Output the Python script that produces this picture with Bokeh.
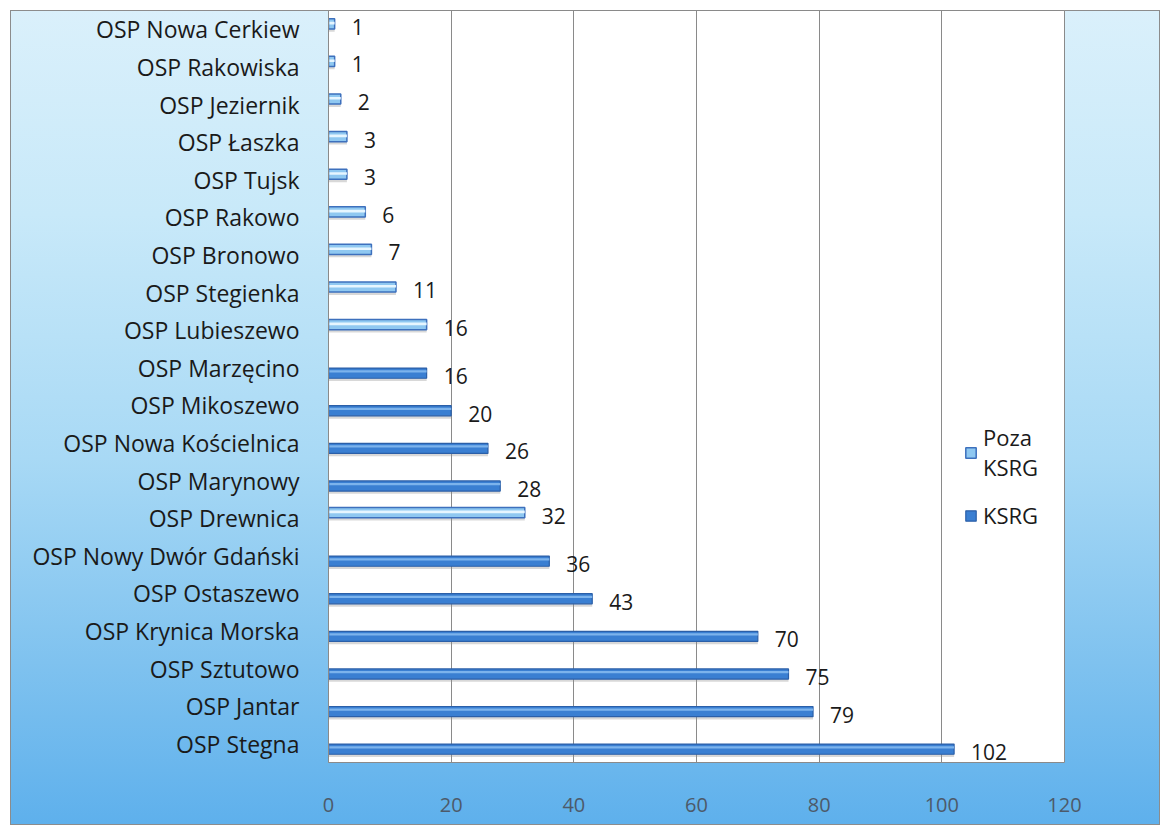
from bokeh.plotting import figure
from bokeh.models import ColumnDataSource, FactorRange, Range1d, Legend, LegendItem
from bokeh.transform import dodge
from bokeh.core.properties import value
from bokeh.embed import file_html
from bokeh.resources import INLINE

# ---- data (top to bottom as in the chart) ----
names = ["OSP Nowa Cerkiew", "OSP Rakowiska", "OSP Jeziernik", "OSP Łaszka", "OSP Tujsk",
         "OSP Rakowo", "OSP Bronowo", "OSP Stegienka", "OSP Lubieszewo", "OSP Marzęcino",
         "OSP Mikoszewo", "OSP Nowa Kościelnica", "OSP Marynowy", "OSP Drewnica",
         "OSP Nowy Dwór Gdański", "OSP Ostaszewo", "OSP Krynica Morska", "OSP Sztutowo",
         "OSP Jantar", "OSP Stegna"]
values = [1, 1, 2, 3, 3, 6, 7, 11, 16, 16, 20, 26, 28, 32, 36, 43, 70, 75, 79, 102]
series = ["Poza KSRG", "Poza KSRG", "Poza KSRG", "Poza KSRG", "Poza KSRG", "Poza KSRG",
          "Poza KSRG", "Poza KSRG", "Poza KSRG", "KSRG", "KSRG", "KSRG", "KSRG",
          "Poza KSRG", "KSRG", "KSRG", "KSRG", "KSRG", "KSRG", "KSRG"]
x_ticks = [0, 20, 40, 60, 80, 100, 120]
legend_labels = ["Poza\nKSRG", "KSRG"]


def subset(kind):
    n = [a for a, s in zip(names, series) if s == kind]
    v = [b for b, s in zip(values, series) if s == kind]
    return ColumnDataSource(dict(name=n, v=v, label=[str(b) for b in v]))


src_k = subset("KSRG")
src_p = subset("Poza KSRG")

FONT = value("Open Sans")

p = figure(width=1150, height=815,
           y_range=FactorRange(factors=names[::-1]),
           x_range=Range1d(0, 120),
           output_backend="svg", toolbar_location=None,
           min_border_left=318, min_border_right=96,
           min_border_top=0, min_border_bottom=63)

p.background_fill_color = "white"
p.border_fill_color = None
p.styles = {
    "margin-left": "10px",
    "margin-top": "10px",
    "background": "linear-gradient(to bottom, #daf0fb 0%, #c8e9f9 25%, #a8d9f5 55%, #7fc2ef 80%, #5eb0ec 100%)",
    "box-shadow": "inset 0 0 0 1px #8c8c8c",
}
p.outline_line_color = "#8a8a8a"
p.outline_line_width = 1

# axes
p.xaxis.ticker = x_ticks
p.xaxis.axis_line_color = None
p.xaxis.major_tick_line_color = None
p.xaxis.minor_tick_line_color = None
p.xaxis.major_label_standoff = 29
p.xaxis.major_label_text_font = "Open Sans"
p.xaxis.major_label_text_font_size = "20px"
p.xaxis.major_label_text_color = "#4d5a6a"

p.yaxis.axis_line_color = "#8a8a8a"
p.yaxis.major_tick_line_color = None
p.yaxis.minor_tick_line_color = None
p.yaxis.major_label_standoff = 23
p.yaxis.major_label_text_font = "Open Sans"
p.yaxis.major_label_text_font_size = "23px"
p.yaxis.major_label_text_color = "#1a1a1a"

p.xgrid.grid_line_color = "#8a8a8a"
p.xgrid.grid_line_width = 1
p.ygrid.grid_line_color = None

H = 0.27
OFF_P = 0.145
OFF_K = -0.145

# shadows
for src, off in ((src_p, OFF_P), (src_k, OFF_K)):
    p.hbar(y=dodge("name", off - 0.075, range=p.y_range), left=0, right="v", height=H,
           source=src, fill_color="#8f8f8f", fill_alpha=0.35, line_color=None)

# KSRG bars
rk = p.hbar(y=dodge("name", OFF_K, range=p.y_range), left=0, right="v", height=H,
            source=src_k, fill_color="#3a7fd2", line_color="#2b5fa8", line_width=1.2)
p.hbar(y=dodge("name", OFF_K + 0.05, range=p.y_range), left=0.15, right="v", height=0.06,
       source=src_k, fill_color="#7cb3ec", line_color=None)

# Poza KSRG bars
rp = p.hbar(y=dodge("name", OFF_P, range=p.y_range), left=0, right="v", height=H,
            source=src_p, fill_color="#8fc8f1", line_color="#3d70bd", line_width=1.5)
p.hbar(y=dodge("name", OFF_P + 0.02, range=p.y_range), left=0.15, right="v", height=0.07,
       source=src_p, fill_color="#e6f6ff", line_color=None)

# value labels
for src, off in ((src_p, OFF_P), (src_k, OFF_K)):
    p.text(x="v", y=dodge("name", off, range=p.y_range), text="label", source=src,
           x_offset=17, y_offset=3, text_baseline="middle", text_align="left",
           text_font=FONT, text_font_size="21px", text_color="#1a1a1a")

legend = Legend(items=[LegendItem(label=legend_labels[0], renderers=[rp]),
                       LegendItem(label=legend_labels[1], renderers=[rk])],
                location=(636, 232), orientation="vertical",
                background_fill_color="white", background_fill_alpha=1.0,
                border_line_color=None, padding=4, margin=0, spacing=18,
                glyph_width=13, glyph_height=13, label_standoff=6,
                label_text_font="Open Sans", label_text_font_size="22px",
                label_text_color="#1a1a1a")
p.add_layout(legend, "center")

open("out.html", "w").write(file_html(p, INLINE))
